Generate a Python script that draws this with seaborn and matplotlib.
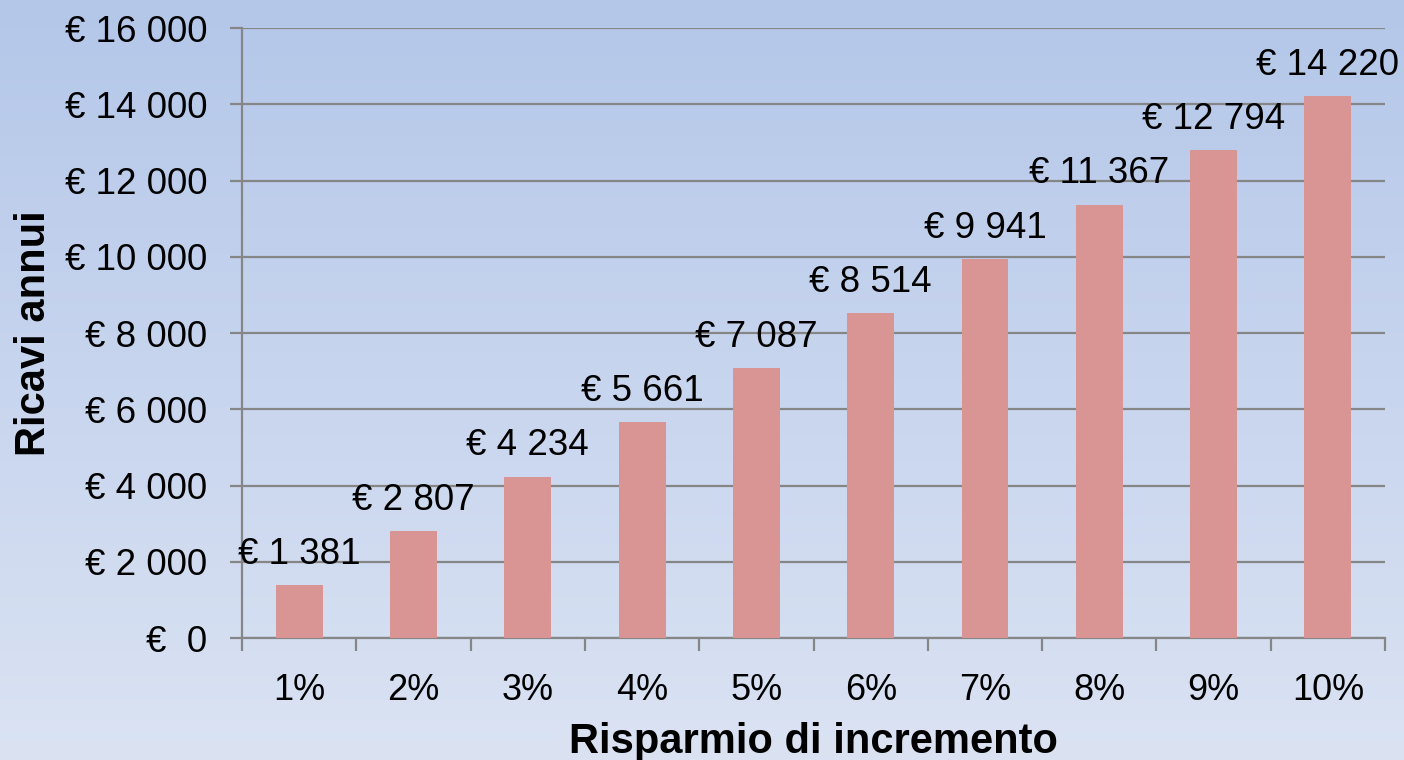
import numpy as np
import pandas as pd
import matplotlib
matplotlib.use('Agg')
import matplotlib.pyplot as plt
from matplotlib.ticker import FuncFormatter, MultipleLocator
import seaborn as sns

# Chart data
categories = ['1%', '2%', '3%', '4%', '5%', '6%', '7%', '8%', '9%', '10%']
ricavi = [1381, 2807, 4234, 5661, 7087, 8514, 9941, 11367, 12794, 14220]

df = pd.DataFrame({'risparmio': categories, 'ricavi': ricavi})

sns.set_style('white')
plt.rcParams['font.family'] = ['Liberation Sans', 'DejaVu Sans']
plt.rcParams['text.color'] = 'black'
plt.rcParams['axes.labelcolor'] = 'black'

fig = plt.figure(figsize=(14.04, 7.6), dpi=100)

# gradient background over the whole figure
bg = fig.add_axes([0, 0, 1, 1], zorder=-1)
top_col = np.array([180, 199, 233]) / 255
bot_col = np.array([219, 227, 243]) / 255
t = np.linspace(0, 1, 256)[:, None, None]
grad = top_col * (1 - t) + bot_col * t
grad = np.repeat(grad, 2, axis=1)
bg.imshow(grad, aspect='auto', extent=[0, 1, 0, 1])
bg.set_axis_off()

ax = fig.add_axes([0.1724, 0.1605, 0.8141, 0.8026])
ax.patch.set_alpha(0)

grid_col = '#868686'
sns.barplot(data=df, x='risparmio', y='ricavi', color='#d99594', width=0.41,
            saturation=1, linewidth=0, ax=ax, zorder=3)

ax.set_ylim(0, 16000)
ax.set_xlim(-0.5, len(categories) - 0.5)
ax.yaxis.set_major_locator(MultipleLocator(2000))


def euro(v, pos=None):
    v = int(round(v))
    if v == 0:
        return '€  0'
    return '€ ' + f'{v:,}'.replace(',', ' ')


ax.yaxis.set_major_formatter(FuncFormatter(euro))
ax.grid(axis='y', color=grid_col, linewidth=1.6, zorder=0)
ax.set_axisbelow(True)

for s in ['top', 'right']:
    ax.spines[s].set_visible(False)
for s in ['left', 'bottom']:
    ax.spines[s].set_color(grid_col)
    ax.spines[s].set_linewidth(1.6)

ax.tick_params(axis='y', direction='out', length=9, width=1.6, color=grid_col,
               labelcolor='black', labelsize=26.5, pad=16, left=True)
ax.tick_params(axis='x', which='major', length=0, labelcolor='black',
               labelsize=26, pad=25)
ax.set_xticks(np.arange(-0.5, len(categories), 1.0), minor=True)
ax.tick_params(axis='x', which='minor', direction='out', length=9, width=1.6,
               color=grid_col, bottom=True)

labels = [euro(v) for v in ricavi]
ax.bar_label(ax.containers[0], labels=labels, padding=9.5, fontsize=26.5,
             color='black')

ax.set_xlabel('Risparmio di incremento', fontsize=30, fontweight='bold', labelpad=10)
ax.set_ylabel('Ricavi annui', fontsize=30, fontweight='bold', labelpad=8)

fig.savefig('out.png', dpi=100)
